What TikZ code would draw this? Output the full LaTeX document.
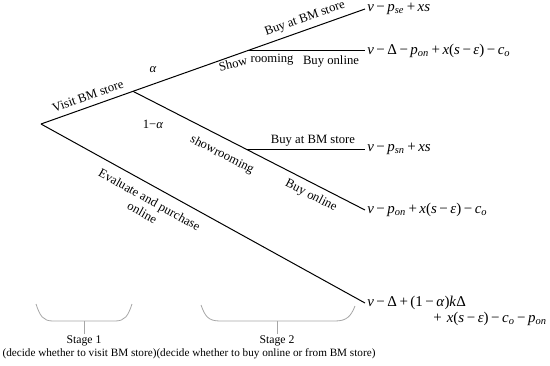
\documentclass[tikz,border=0pt]{standalone}
\usepackage{fontspec}
\setmainfont{Liberation Serif}
\newcommand{\op}[1]{\hspace{0.17em}#1\hspace{0.17em}}
\newcommand{\iv}[1]{\textit{#1}}
\newcommand{\sub}[1]{\textsubscript{\textit{#1}}}
\begin{document}
\begin{tikzpicture}[x=0.75pt,y=-0.75pt,
  branch/.style={line width=0.75pt},
  lbl/.style={font=\fontsize{9.5}{11}\selectfont, inner sep=1pt},
  pay/.style={font=\fontsize{11.2}{13}\selectfont, anchor=west, inner sep=1.5pt},
  bracestyle/.style={draw=gray!70, line width=0.6pt}]
\useasboundingbox (0,0) rectangle (550,365);
% junctions
\coordinate (root) at (41,124);
\coordinate (visit) at (133,91.3);
\coordinate (sr1) at (248,50.5);
\coordinate (sr2) at (245.8,149);
% payoffs
\node[pay] (p1) at (365,9) {\iv{v}\op{−}\iv{p}\sub{se}\op{+}\iv{xs}};
\node[pay] (p2) at (365,50.5) {\iv{v}\op{−}Δ\op{−}\iv{p}\sub{on}\op{+}\iv{x}(\iv{s}\op{−}\iv{ε})\op{−}\iv{c}\sub{o}};
\node[pay] (p3) at (365,149) {\iv{v}\op{−}\iv{p}\sub{sn}\op{+}\iv{xs}};
\node[pay] (p4) at (365,210) {\iv{v}\op{−}\iv{p}\sub{on}\op{+}\iv{x}(\iv{s}\op{−}\iv{ε})\op{−}\iv{c}\sub{o}};
\node[pay] (p5) at (365,303) {\iv{v}\op{−}Δ\op{+}(1\op{−}\iv{α})\iv{k}Δ};
\node[pay, anchor=east] (p5b) at (549,319) {+\op{}\iv{x}(\iv{s}\op{−}\iv{ε})\op{−}\iv{c}\sub{o}\op{−}\iv{p}\sub{on}};
% branches
\draw[branch] (root) -- (visit) -- (sr1) -- (p1.west);
\draw[branch] (sr1) -- (p2.west);
\draw[branch] (visit) -- (sr2) -- (p4.west);
\draw[branch] (sr2) -- (p3.west);
\draw[branch] (root) -- (p5.west);
% labels
\node[lbl, rotate=19.5] (lvisit) at (88,96) {Visit BM store};
\node[lbl] (lalpha) at (153,70) {\iv{α}};
\node[lbl] (lnalpha) at (153,124) {1−\iv{α}};
\node[lbl, rotate=19.5] (lbuy1) at (305,19) {Buy at BM store};
\node[lbl, rotate=14] (lshow) at (233,64) {Show};
\node[lbl] (lroom) at (272,60) {rooming};
\node[lbl] (lon1) at (331,61) {Buy online};
\node[lbl, rotate=-27.1] (lshowr) at (222,155) {showrooming};
\node[lbl] (lbuy2) at (313,141) {Buy at BM store};
\node[lbl, rotate=-27.1] (lon2) at (311,196) {Buy online};
\node[lbl, rotate=-29.1, align=center] (leval) at (146,206) {Evaluate and purchase\\online};
% stages
\node[lbl, font=\fontsize{8.8}{10}\selectfont] (st1) at (84,341) {Stage 1};
\node[lbl, font=\fontsize{8.8}{10}\selectfont] (st2) at (277,341) {Stage 2};
\node[lbl, font=\fontsize{8.4}{10}\selectfont] (desc) at (189,354) {(decide whether to visit BM store)(decide whether to buy online or from BM store)};
\coordinate (b1) at (84,321);
\coordinate (b2) at (277,321);
\draw[bracestyle] (36,304) .. controls (40,316) and (43,321) .. (53,321) -- (115,321) .. controls (125,321) and (128,316) .. (132,304);
\draw[bracestyle] (b1) -- (st1.north);
\draw[bracestyle] (201,305) .. controls (205,316) and (208,321) .. (220,321) -- (335,321) .. controls (347,321) and (351,316) .. (355,306);
\draw[bracestyle] (b2) -- (st2.north);
\end{tikzpicture}
\end{document}
